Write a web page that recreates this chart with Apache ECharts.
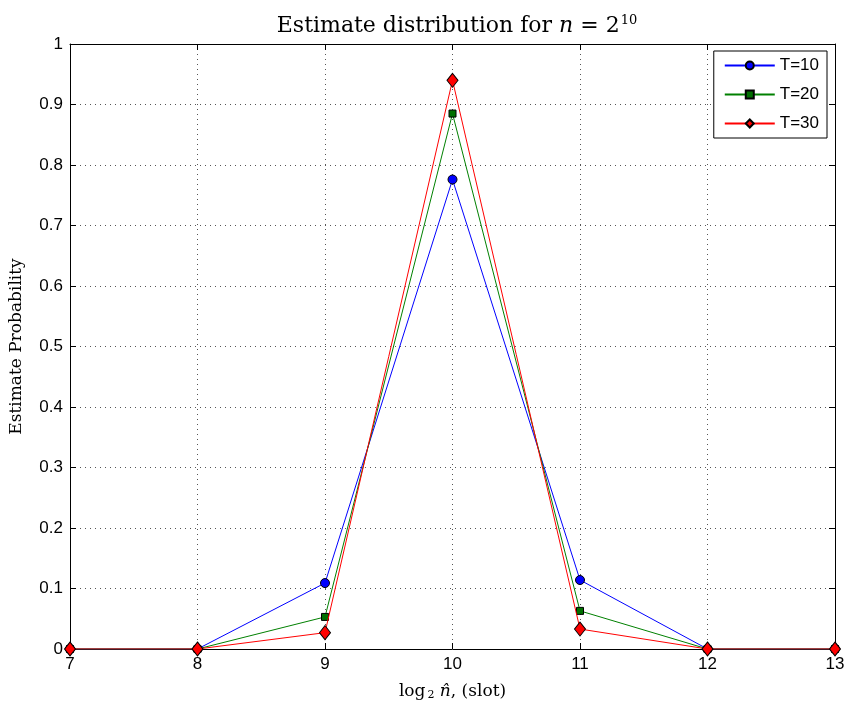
<!DOCTYPE html>
<html><head><meta charset="utf-8">
<script src="https://cdn.jsdelivr.net/npm/echarts@6/dist/echarts.min.js"></script>
<style>html,body{margin:0;padding:0;background:#fff}#c{width:848px;height:705px}</style>
</head><body><div id="c"></div>
<script>
const xValues = [7, 8, 9, 10, 11, 12, 13];
const t10 = [0, 0, 0.109, 0.776, 0.114, 0, 0];
const t20 = [0, 0, 0.053, 0.885, 0.063, 0, 0];
const t30 = [0, 0, 0.027, 0.940, 0.033, 0, 0];
const seriesNames = ['T=10', 'T=20', 'T=30'];
const lineColors = ['#0000ff', '#008000', '#ff0000'];

const chart = echarts.init(document.getElementById('c'), null, {renderer: 'canvas'});
const sans = 'Liberation Sans, Arial, sans-serif';
const serif = 'DejaVu Serif, Liberation Serif, serif';
const pair = arr => xValues.map((x, i) => [x, arr[i]]);
const grid = {lineStyle: {type: [1, 4], color: '#555', width: 1}};
const axisCommon = {
  axisLine: {show: true, onZero: false, lineStyle: {color: '#000', width: 1}},
  axisTick: {show: true, inside: true, length: 6, lineStyle: {color: '#000'}},
};
chart.setOption({
  animation: false,
  backgroundColor: '#fff',
  color: lineColors,
  title: {
    text: '{t|Estimate distribution for }{i|n}{t| = 2}{s|10}',
    left: 452, top: 9, textAlign: 'center',
    textStyle: {fontWeight: 'normal', rich: {
      t: {fontFamily: serif, fontSize: 22, fontWeight: 'normal', color: '#000'},
      i: {fontFamily: serif, fontSize: 22, fontWeight: 'normal', fontStyle: 'italic', color: '#000'},
      s: {fontFamily: serif, fontSize: 13, fontWeight: 'normal', color: '#000', verticalAlign: 'top', padding: [0, 0, 11, 1]}
    }}
  },
  grid: {left: 70, right: 13, top: 44, bottom: 56, outerBoundsMode: 'none', containLabel: false},
  legend: {
    data: seriesNames,
    orient: 'vertical', right: 21, top: 51,
    backgroundColor: '#fff', borderColor: '#000', borderWidth: 1,
    padding: [6, 8, 6, 10], itemWidth: 50, itemHeight: 10, itemGap: 12,
    textStyle: {fontFamily: sans, fontSize: 17, color: '#000'}
  },
  xAxis: [
    Object.assign({type: 'value', min: 7, max: 13, interval: 1,
      name: '{a|log}{b|2}{c| }{i|n̂}{a|, (slot)}', nameLocation: 'middle', nameGap: 33,
      nameTextStyle: {rich: {
        a: {fontFamily: serif, fontSize: 17, color: '#000'},
        b: {fontFamily: serif, fontSize: 11, color: '#000', verticalAlign: 'bottom', padding: [8, 0, 0, 2]},
        c: {fontFamily: serif, fontSize: 17},
        i: {fontFamily: serif, fontSize: 17, fontStyle: 'italic', color: '#000'}
      }},
      axisLabel: {fontFamily: sans, fontSize: 17, color: '#000', margin: 7},
      splitLine: Object.assign({show: true}, grid)}, axisCommon),
    Object.assign({type: 'value', min: 7, max: 13, interval: 1, position: 'top',
      axisLabel: {show: false}, splitLine: {show: false}}, axisCommon)
  ],
  yAxis: [
    Object.assign({type: 'value', min: 0, max: 1, interval: 0.1,
      name: 'Estimate Probability', nameLocation: 'middle', nameGap: 45,
      nameTextStyle: {fontFamily: serif, fontSize: 17, color: '#000'},
      axisLabel: {fontFamily: sans, fontSize: 17, color: '#000', margin: 7,
        formatter: v => String(Math.round(v * 10) / 10)},
      splitLine: Object.assign({show: true}, grid)}, axisCommon),
    Object.assign({type: 'value', min: 0, max: 1, interval: 0.1, position: 'right',
      axisLabel: {show: false}, splitLine: {show: false}}, axisCommon)
  ],
  series: [
    {name: 'T=10', type: 'line', data: pair(t10), symbol: 'circle', symbolSize: 9,
      lineStyle: {color: lineColors[0], width: 1},
      itemStyle: {color: '#0000ff', borderColor: '#000', borderWidth: 1}, z: 3},
    {name: 'T=20', type: 'line', data: pair(t20), symbol: 'rect', symbolSize: 7,
      lineStyle: {color: lineColors[1], width: 1},
      itemStyle: {color: '#007000', borderColor: '#000', borderWidth: 1}, z: 4},
    {name: 'T=30', type: 'line', data: pair(t30), symbol: 'diamond', symbolSize: [11, 14],
      lineStyle: {color: lineColors[2], width: 1},
      itemStyle: {color: '#ff0000', borderColor: '#000', borderWidth: 1}, z: 5}
  ]
});
</script></body></html>
